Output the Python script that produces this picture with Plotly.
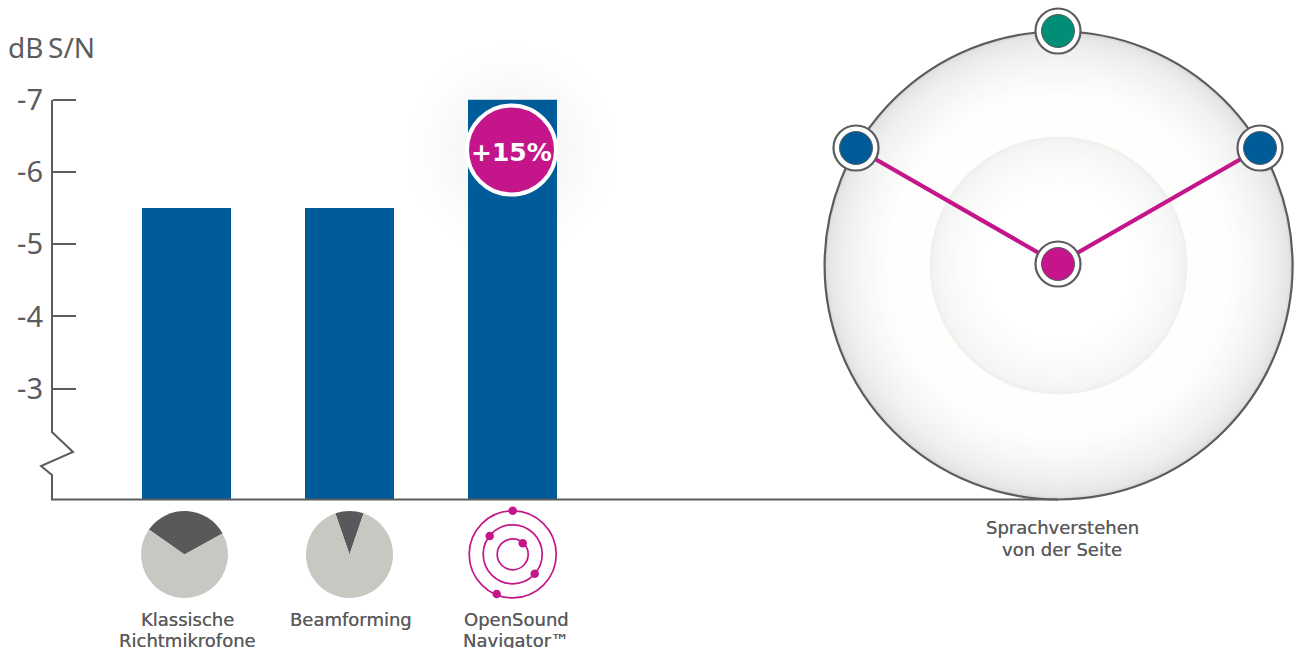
import plotly.graph_objects as go

W, H = 1294, 648

# Bar chart data
bar_labels = [["Klassische", "Richtmikrofone"], ["Beamforming"], ["OpenSound", "Navigator™"]]
bar_label_x = [187, 351, 516]
bar_values = [-5.5, -5.5, -7.0]
bar_centers = [186.5, 349.5, 512.5]
axis_floor = -1.47
tick_values = [-7, -6, -5, -4, -3]
tick_labels = ["-7", "-6", "-5", "-4", "-3"]
BAR_WIDTH = 89

# Directivity pies: [beam width in degrees, remainder]
pie_centers = [(184.5, 554.5), (349.5, 554.5)]
pie_values = [[116, 244], [38, 322]]
pie_rotations = [-55, -19]
PIE_R = 43.5

# Orbit icon (page pixels)
orbit_center = (512.7, 554.3)
orbit_diameters = [87, 59, 31]
orbit_x = [512.7, 489.7, 522.7, 534.7, 496.7]
orbit_y = [510.7, 536.0, 543.3, 573.7, 594.0]

# Speech-understanding diagram (page pixels)
disc_center = (1058.6, 265.5)
disc_caption = ["Sprachverstehen", "von der Seite"]
DISC_R = 234
INNER_R = 129
speaker_x = [1058, 856, 1260]
speaker_y = [31, 148, 148]
speaker_colors = ["#008f76", "#005c99", "#005c99"]
listener_x = [1058]
listener_y = [264]
beam_x = [856, 1058, 1260]
beam_y = [148, 264, 148]

INK = "#5b5c5e"
BLUE = "#005c99"
MAGENTA = "#c4168a"
FONT = "Noto Sans"
LABEL_FONT = dict(family="DejaVu Sans", size=18, color=INK, shadow="0 0 0.6px #5b5c5e")

# Value axis: -7 sits just under y=100 and one unit spans 72.25 px
UNIT = 72.25
TOP_PX = 99.7
y_top = -7 - TOP_PX / UNIT
y_bottom = -7 + (H - TOP_PX) / UNIT


def to_value(py):
    return -7 + (py - TOP_PX) / UNIT


def mix(a, b, t):
    return "#%02x%02x%02x" % tuple(round(x + (y - x) * t) for x, y in zip(a, b))


def circle(cx, cy, r, fill, line=None, width=0, layer="below"):
    return dict(type="circle", xref="x", yref="y2", x0=cx - r, x1=cx + r, y0=cy - r, y1=cy + r,
                fillcolor=fill, line=dict(color=line or fill, width=width), layer=layer)


shapes = []

# Soft glow behind the badge
for i in range(16):
    f = i / 15
    shapes.append(circle(512, 150, 112 - f * 62, mix((255, 255, 255), (247, 247, 247), f ** 1.3)))

# Outer disc: grey rim fading to near white
cx, cy = disc_center
steps = 40
for i in range(steps):
    f = i / (steps - 1)
    r = DISC_R - f * (DISC_R - INNER_R)
    t = min(1.0, f / 0.6) ** 0.45
    shapes.append(circle(cx, cy, r, mix((220, 220, 219), (254, 254, 253), t)))
shapes.append(circle(cx, cy, DISC_R, "rgba(0,0,0,0)", line=INK, width=2.2))

# Inner disc: pale edge fading to white at the centre
for i in range(26):
    f = i / 25
    r = INNER_R * (1 - f * 0.6)
    t = min(1.0, f / 0.7) ** 0.5
    shapes.append(circle(cx, cy, r, mix((240, 240, 238), (255, 255, 255), t)))

fig = go.Figure()

# Bars rise from the broken axis floor
fig.add_trace(go.Bar(
    x=bar_centers, y=[v - axis_floor for v in bar_values], base=axis_floor, width=BAR_WIDTH,
    marker=dict(color=BLUE, line=dict(width=0)), hoverinfo="skip", showlegend=False,
    xaxis="x", yaxis="y",
))

# Axis with its break mark
axis_x = [52, 52, 73, 41, 52, 52, 1058]
axis_py = [100, 432, 452, 466, 475, 499.5, 499.5]
fig.add_trace(go.Scatter(
    x=axis_x, y=[to_value(p) for p in axis_py], mode="lines", cliponaxis=False,
    line=dict(color=INK, width=2), hoverinfo="skip", showlegend=False, xaxis="x", yaxis="y",
))

# Orbit rings and their dots
fig.add_trace(go.Scatter(
    x=[orbit_center[0]] * 3, y=[orbit_center[1]] * 3, mode="markers",
    marker=dict(size=orbit_diameters, color="rgba(0,0,0,0)", opacity=1, line=dict(color=MAGENTA, width=1.7)),
    hoverinfo="skip", showlegend=False, xaxis="x", yaxis="y2",
))
fig.add_trace(go.Scatter(
    x=orbit_x, y=orbit_y, mode="markers", marker=dict(size=8.5, color=MAGENTA),
    hoverinfo="skip", showlegend=False, xaxis="x", yaxis="y2",
))

# Lines from the side speakers to the listener
fig.add_trace(go.Scatter(
    x=beam_x, y=beam_y, mode="lines", line=dict(color=MAGENTA, width=4.2),
    hoverinfo="skip", showlegend=False, xaxis="x", yaxis="y2",
))

# Speaker and listener nodes: white ring with a coloured core
node_x = speaker_x + listener_x
node_y = speaker_y + listener_y
node_colors = speaker_colors + [MAGENTA]
fig.add_trace(go.Scatter(
    x=node_x, y=node_y, mode="markers",
    marker=dict(size=45, color="#ffffff", line=dict(color=INK, width=2.2)),
    hoverinfo="skip", showlegend=False, xaxis="x", yaxis="y2",
))
fig.add_trace(go.Scatter(
    x=node_x, y=node_y, mode="markers",
    marker=dict(size=33, color=node_colors, line=dict(color=INK, width=1)),
    hoverinfo="skip", showlegend=False, xaxis="x", yaxis="y2",
))

# Percentage badge
fig.add_trace(go.Scatter(
    x=[511.5], y=[150], mode="markers",
    marker=dict(size=89, color=MAGENTA, line=dict(color="#ffffff", width=4)),
    hoverinfo="skip", showlegend=False, xaxis="x", yaxis="y2",
))

# Directivity icons
for (px, py), vals, rot in zip(pie_centers, pie_values, pie_rotations):
    fig.add_trace(go.Pie(
        values=vals, sort=False, direction="clockwise", rotation=rot,
        marker=dict(colors=["#58595b", "#c8c7c2"], line=dict(width=0)),
        textinfo="none", hoverinfo="skip", showlegend=False,
        domain=dict(x=[(px - PIE_R) / W, (px + PIE_R) / W],
                    y=[1 - (py + PIE_R) / H, 1 - (py - PIE_R) / H]),
    ))


def caption_lines(x, first_y, lines, spacing):
    # Each line is placed on its own to keep the tight leading
    return [dict(x=x, y=first_y + i * spacing, xref="x", yref="y2", text=line, showarrow=False,
                 xanchor="center", yanchor="middle", font=LABEL_FONT)
            for i, line in enumerate(lines)]


annotations = [
    dict(x=6, y=47, xref="x", yref="y2", text="dB\u2009S/N", showarrow=False, xanchor="left", yanchor="middle",
         font=dict(family=FONT, size=28, color=INK)),
    dict(x=511, y=152, xref="x", yref="y2", text="+15%", showarrow=False, xanchor="center", yanchor="middle",
         font=dict(family="DejaVu Sans", size=25, color="#ffffff", weight="bold")),
]
for lines, x in zip(bar_labels, bar_label_x):
    annotations += caption_lines(x, 619, lines, 21.5)
annotations += caption_lines(1062, 527, disc_caption, 22)

fig.update_layout(
    width=W, height=H, margin=dict(l=0, r=0, t=0, b=0), autosize=False,
    paper_bgcolor="#ffffff", plot_bgcolor="rgba(0,0,0,0)",
    barmode="overlay", showlegend=False, shapes=shapes, annotations=annotations,
    xaxis=dict(range=[0, W], visible=False, fixedrange=True, domain=[0, 1]),
    yaxis=dict(range=[y_bottom, y_top], anchor="free", position=52 / W, side="left", tickmode="array",
               tickvals=tick_values, ticktext=tick_labels, ticks="inside", ticklen=23, tickwidth=2, tickcolor=INK,
               ticklabelstandoff=9, showline=False, showgrid=False, zeroline=False, fixedrange=True,
               tickfont=dict(family=FONT, size=29, color=INK)),
    yaxis2=dict(range=[H, 0], overlaying="y", visible=False, fixedrange=True),
)

fig.write_html("out.html", config=dict(displayModeBar=False))
